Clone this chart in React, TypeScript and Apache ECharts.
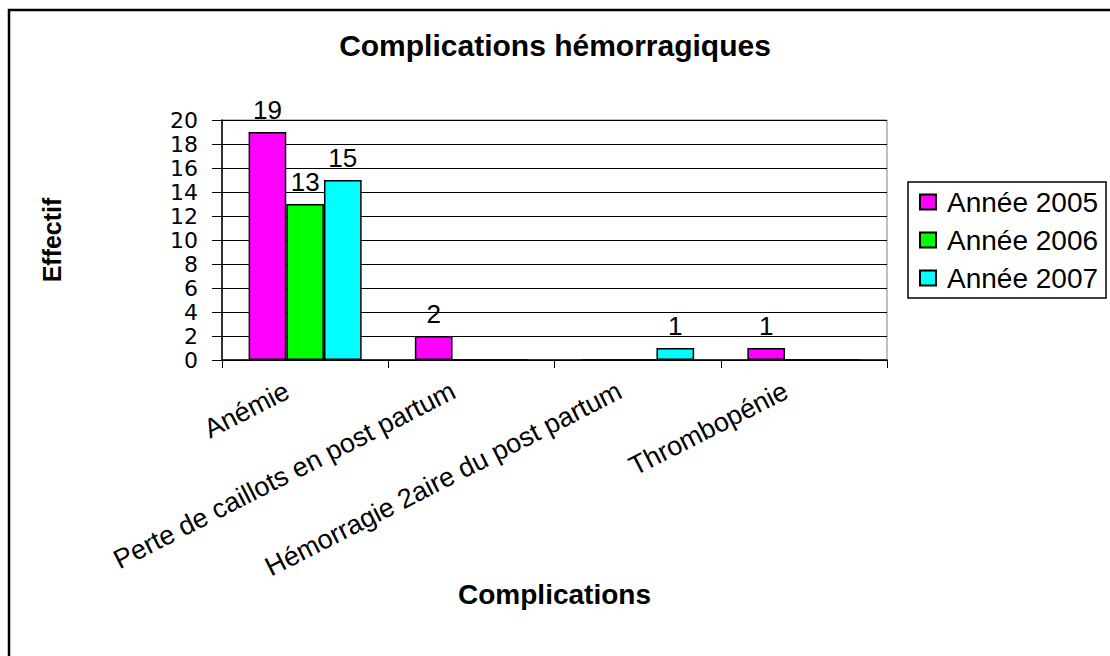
import React, { useEffect, useRef } from "react";
import * as echarts from "echarts";

const categories = [
  "Anémie",
  "Perte de caillots en post partum",
  "Hémorragie 2aire du post partum",
  "Thrombopénie",
];
const seriesNames = ["Année 2005", "Année 2006", "Année 2007"];
const values2005 = [19, 2, 0, 1];
const values2006 = [13, 0, 0, 0];
const values2007 = [15, 0, 1, 0];
const seriesColors = ["#FF00FF", "#00FF00", "#00FFFF"];
const yTicks = { min: 0, max: 20, interval: 2 };

const FONT = "'Liberation Sans', Arial, sans-serif";
const WIDE_FONT = "'DejaVu Sans', 'Liberation Sans', Arial, sans-serif";

export default function App() {
  const ref = useRef<HTMLDivElement>(null);
  useEffect(() => {
    if (!ref.current) return;
    const chart = echarts.init(ref.current, undefined, { renderer: "svg" });
    const allValues = [values2005, values2006, values2007];
    chart.setOption({
      animation: false,
      backgroundColor: "#ffffff",
      textStyle: { fontFamily: FONT, color: "#000" },
      title: {
        text: "Complications hémorragiques",
        left: "center",
        top: 25,
        textStyle: { fontFamily: FONT, fontSize: 30, fontWeight: "bold", color: "#000" },
      },
      legend: {
        orient: "vertical",
        left: 908,
        top: 182,
        data: seriesNames,
        icon: "rect",
        itemWidth: 16,
        itemHeight: 15,
        itemGap: 10,
        padding: [6, 8, 6, 11],
        borderColor: "#000",
        borderWidth: 1.5,
        textStyle: { fontFamily: FONT, fontSize: 28, lineHeight: 28, color: "#000", padding: [0, 0, 0, 6] },
      },
      grid: {
        left: 222,
        right: 223,
        top: 120,
        bottom: 296,
        show: true,
        borderColor: "#808080",
        borderWidth: 1,
        backgroundColor: "transparent",
      },
      xAxis: {
        type: "category",
        data: categories,
        name: "Complications",
        nameLocation: "middle",
        nameGap: 220,
        nameMoveOverlap: false,
        nameTextStyle: { fontFamily: FONT, fontSize: 28, fontWeight: "bold", color: "#000" },
        axisLine: { lineStyle: { color: "#000", width: 1.5 } },
        axisTick: { show: true, length: 8, lineStyle: { color: "#000" } },
        axisLabel: {
          interval: 0,
          rotate: 27,
          margin: 20,
          padding: [0, 20, 0, 0],
          fontFamily: FONT,
          fontSize: 27,
          lineHeight: 24,
          color: "#000",
        },
      },
      yAxis: {
        type: "value",
        min: yTicks.min,
        max: yTicks.max,
        interval: yTicks.interval,
        name: "Effectif",
        nameLocation: "middle",
        nameRotate: 90,
        nameGap: 158,
        nameMoveOverlap: false,
        nameTextStyle: { fontFamily: FONT, fontSize: 25, fontWeight: "bold", color: "#000" },
        axisLine: { show: true, lineStyle: { color: "#000", width: 1.5 } },
        axisTick: { show: true, length: 10, lineStyle: { color: "#000" } },
        splitLine: { show: true, lineStyle: { color: "#000", width: 1 } },
        axisLabel: {
          margin: 24,
          fontFamily: WIDE_FONT,
          fontSize: 22,
          lineHeight: 20,
          color: "#000",
          showMinLabel: true,
          showMaxLabel: true,
          hideOverlap: false,
        },
      },
      series: seriesNames.map((name, i) => ({
        name,
        type: "bar",
        data: allValues[i],
        barGap: "0%",
        barCategoryGap: "32%",
        itemStyle: { color: seriesColors[i], borderColor: "#000", borderWidth: 1.5 },
        label: {
          show: true,
          position: "top",
          distance: 9,
          fontFamily: FONT,
          fontSize: 26,
          color: "#000",
          formatter: (p: any) => (p.value ? String(p.value) : ""),
        },
      })),
      graphic: [
        {
          type: "rect",
          shape: { x: 9, y: 10, width: 1200, height: 700 },
          style: { fill: "none", stroke: "#000", lineWidth: 2.5 },
          silent: true,
        },
      ],
    });
    return () => chart.dispose();
  }, []);
  return (
    <div
      ref={ref}
      style={{ position: "fixed", left: 0, top: 0, width: 1110, height: 656 }}
    />
  );
}
